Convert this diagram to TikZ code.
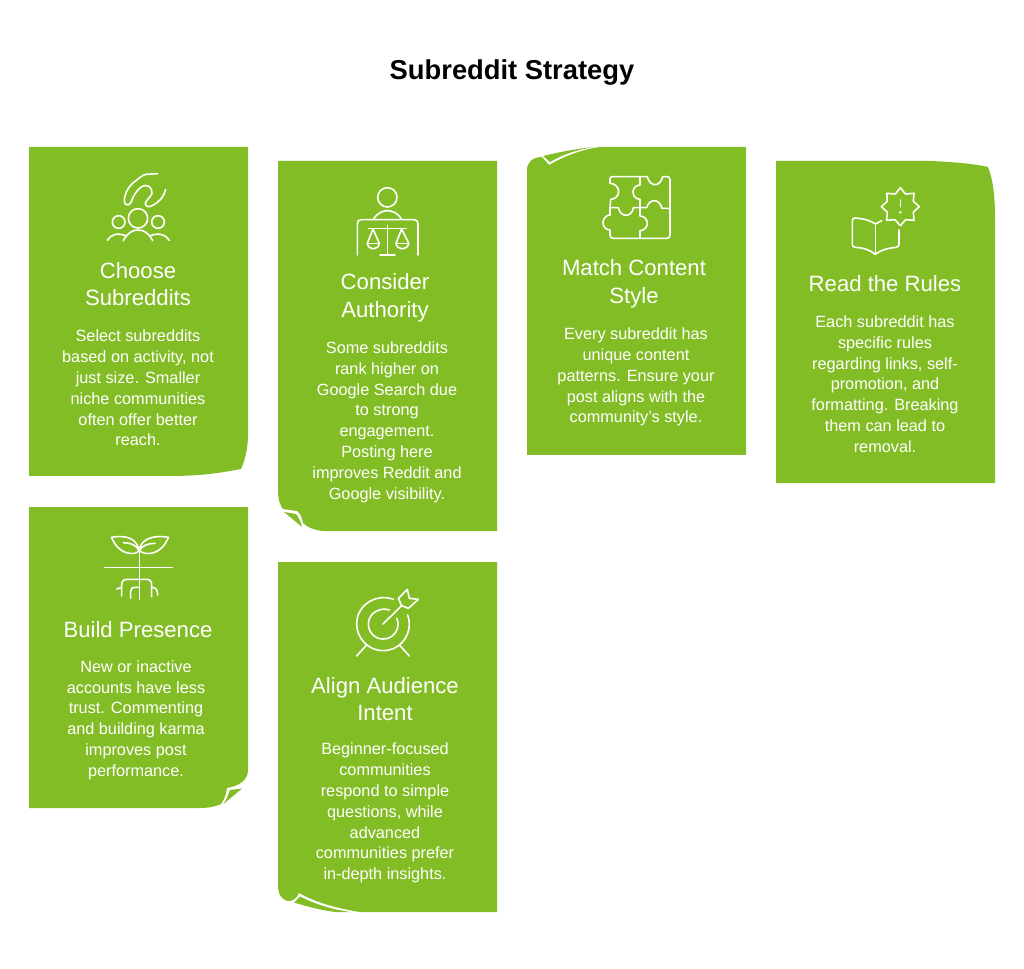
\documentclass[tikz,border=0pt]{standalone}
\usepackage{fontspec}
\setmainfont{Liberation Sans}
\definecolor{cardgreen}{HTML}{83BD26}
\tikzset{
  card/.style={fill=cardgreen,draw=none},
  icon/.style={draw=white,line width=1.2pt,line cap=round,line join=round,fill=none},
  headtext/.style={text=white,inner sep=0,align=center,font=\fontsize{16.6}{20.6}\selectfont},
  bodytext/.style={text=white,inner sep=0,align=center,font=\fontsize{12.2}{15.6}\selectfont},
  titletext/.style={text=black,inner sep=0,font=\fontsize{20.5}{24}\selectfont\bfseries}
}
\begin{document}
\begin{tikzpicture}[x=0.75pt,y=-0.75pt]
\useasboundingbox (0,0) rectangle (1024,969);
\fill[white] (0,0) rectangle (1024,969);
\node[titletext] (title) at (512,72) {Subreddit Strategy};
% Card 1
\path[card] (29,147) -- (248,147) -- (248,435) .. controls (248,448) and (245,460) .. (241,469) .. controls (220,473) and (200,476) .. (170,476) -- (29,476) -- cycle;
% Card 2
\path[card] (278,161) -- (497,161) -- (497,531) -- (325,531) .. controls (314,531) and (306,526) .. (303,523) .. controls (302,517) and (300,513) .. (297,511) -- (283,509) .. controls (280,505) and (278,500) .. (278,490) -- cycle;
\path[card] (284,512) -- (296,514) .. controls (299,518) and (301,522) .. (302,527) -- cycle;
% Card 3
\path[card] (597,147) -- (746,147) -- (746,455) -- (527,455) -- (527,170) .. controls (527,162) and (533,157) .. (542,157) -- (549,165) .. controls (565,156) and (580,150) .. (600,147) -- cycle;
\path[card] (543,156) -- (550,162) .. controls (562,155) and (575,150) .. (594,147) .. controls (575,149) and (560,152) .. (543,156) -- cycle;
% Card 4
\path[card] (776,161) -- (930,161) .. controls (955,162) and (975,164) .. (988,167) .. controls (993,180) and (995,195) .. (995,220) -- (995,483) -- (776,483) -- cycle;
% Card 5
\path[card] (29,507) -- (248,507) -- (248,770) .. controls (248,781) and (238,786) .. (227,788) .. controls (226,795) and (224,800) .. (221,804) .. controls (215,807) and (208,808) .. (198,808) -- (29,808) -- cycle;
\path[card] (242,788.5) -- (230,790) .. controls (228,796) and (226,800) .. (223.5,804) -- cycle;
% Card 6
\path[card] (278,562) -- (497,562) -- (497,912) -- (360,912) .. controls (335,908) and (315,902) .. (299,893) .. controls (297,898) and (294,900) .. (290,901) .. controls (282,901) and (278,895) .. (278,885) -- cycle;
\path[card] (294,902.5) -- (300,896.5) .. controls (315,904) and (330,909) .. (350,912) -- (335,912) .. controls (320,910) and (305,906) .. (294,902.5) -- cycle;
% Icon 1
\begin{scope}[shift={(20,140)},scale=1/3]
\draw[icon] (413,101) -- (378,103) .. controls (365,105) and (355,118) .. (340,128) .. controls (325,140) and (312,165) .. (313,185) .. controls (315,197) and (328,198) .. (333,187) .. controls (340,170) and (345,155) .. (365,140) .. controls (380,130) and (398,142) .. (396,160) .. controls (392,172) and (378,180) .. (376,190) .. controls (376,200) and (388,203) .. (398,196) .. controls (415,187) and (430,175) .. (437,148);
\draw[icon] (354,235) circle (29);
\draw[icon] (296,246) circle (19);
\draw[icon] (414,246) circle (19);
\draw[icon] (310,302) .. controls (322,278) and (338,270) .. (354,270) .. controls (370,270) and (386,278) .. (398,302);
\draw[icon] (262,301) .. controls (272,285) and (290,276) .. (319,288);
\draw[icon] (389,288) .. controls (418,276) and (438,285) .. (448,301);
\end{scope}
% Icon 2
\begin{scope}[shift={(270,150)},scale=1/3]
\draw[icon] (352,142) circle (29);
\draw[icon] (310,208) .. controls (322,188) and (340,182) .. (352,182) .. controls (365,182) and (383,188) .. (395,208);
\draw[icon] (262,315) -- (262,222) .. controls (262,213) and (266,209) .. (274,209) -- (432,209) .. controls (440,209) and (444,213) .. (444,222) -- (444,315);
\draw[icon] (295,235) -- (408,235);
\draw[icon] (352,226) -- (352,315);
\draw[icon] (330,315) -- (375,315);
\draw[icon] (309,237) -- (292,280) .. controls (295,302) and (325,302) .. (328,280) -- cycle;
\draw[icon] (292,280) -- (328,280);
\draw[icon] (395,237) -- (378,280) .. controls (381,302) and (413,302) .. (416,280) -- cycle;
\draw[icon] (378,280) -- (416,280);
\end{scope}
% Icon 3
\begin{scope}[shift={(520,140)},scale=1/3]
\draw[icon] (360,110) -- (278,110) .. controls (272,110) and (270,112) .. (270,118) -- (270,130) .. controls (285,130) and (296,142) .. (296,155) .. controls (296,168) and (285,178) .. (272,178) -- (270,203) -- (270,225) .. controls (258,225) and (249,237) .. (249,248) .. controls (249,260) and (258,270) .. (270,270) -- (270,285) .. controls (270,292) and (274,295) .. (280,295) -- (440,295) .. controls (447,295) and (450,292) .. (450,285) -- (450,120) .. controls (450,113) and (447,110) .. (440,110) -- (428,110) .. controls (425,125) and (415,134) .. (405,134) .. controls (395,134) and (385,125) .. (382,110) -- (360,110) -- (360,135) .. controls (348,135) and (339,145) .. (339,156) .. controls (339,168) and (348,178) .. (360,178) -- (360,228) .. controls (372,228) and (382,238) .. (382,250) .. controls (382,262) and (372,272) .. (360,272) -- (360,295);
\draw[icon] (270,203) -- (295,203) .. controls (298,218) and (308,226) .. (318,226) .. controls (328,226) and (338,218) .. (340,203) -- (380,203) .. controls (383,190) and (393,182) .. (403,182) .. controls (413,182) and (423,192) .. (426,205) -- (450,205);
\end{scope}
% Icon 4
\begin{scope}[shift={(770,150)},scale=1/3]
\draw[icon] (391,113) -- (406,132) -- (432,130) -- (430,154) -- (448,170) -- (430,186) -- (432,211) -- (407,209) -- (391,227) -- (375,209) -- (350,211) -- (352,186) -- (334,170) -- (352,154) -- (350,130) -- (376,132) -- cycle;
\draw[icon] (391,150) -- (391,170);
\fill[white] (391,187) circle (4);
\draw[icon] (335,212) -- (316,222) .. controls (300,210) and (275,205) .. (255,204) .. controls (250,204) and (247,207) .. (247,212) -- (247,283) .. controls (247,289) and (250,292) .. (256,292) .. controls (280,293) and (300,300) .. (316,313) .. controls (332,300) and (352,295) .. (378,292) .. controls (384,291) and (387,288) .. (387,283) -- (387,240);
\draw[icon] (316,222) -- (316,313);
\end{scope}
% Icon 5
\begin{scope}[shift={(20,500)},scale=1/3]
\draw[icon] (357,152) .. controls (352,120) and (325,103) .. (275,112) .. controls (285,140) and (310,165) .. (345,160) .. controls (350,158) and (355,155) .. (357,152) .. controls (362,120) and (395,103) .. (445,112) .. controls (435,140) and (410,165) .. (375,160) .. controls (368,158) and (362,155) .. (358,152);
\draw[icon] (310,128) .. controls (330,128) and (350,135) .. (357,152);
\draw[icon] (405,130) .. controls (385,130) and (365,137) .. (358,152);
\draw[icon] (358,150) -- (358,298);
\draw[icon] (253,202) -- (457,202);
\draw[icon] (305,288) -- (305,255) .. controls (305,244) and (310,238) .. (322,238) -- (380,238) .. controls (390,238) and (395,244) .. (395,255) -- (395,290);
\draw[icon] (290,267) -- (305,262);
\draw[icon] (395,262) .. controls (408,262) and (413,270) .. (413,285);
\draw[icon] (332,295) -- (332,275) .. controls (332,266) and (336,262) .. (344,262) -- (358,262);
\end{scope}
% Icon 6
\begin{scope}[shift={(270,555)},scale=1/3]
\draw[icon] (370,133) .. controls (325,115) and (260,145) .. (260,207) .. controls (260,250) and (295,287) .. (339,287) .. controls (385,287) and (418,250) .. (418,207) .. controls (418,197) and (416,188) .. (413,180);
\draw[icon] (358,165) .. controls (330,155) and (295,175) .. (295,207) .. controls (295,232) and (315,252) .. (339,252) .. controls (365,252) and (384,232) .. (384,207) .. controls (384,200) and (383,195) .. (380,190);
\draw[icon] (339,207) -- (395,152);
\draw[icon] (395,152) -- (385,130) -- (412,103) -- (418,130) -- (445,133) -- (415,160) -- cycle;
\draw[icon] (288,272) -- (260,303);
\draw[icon] (390,272) -- (418,303);
\end{scope}
% Texts
\node[headtext] (h1) at (138,284) {Choose\\Subreddits};
\node[bodytext] (b1) at (138,388) {Select subreddits\\based on activity, not\\just size. Smaller\\niche communities\\often offer better\\reach.};
\node[headtext] (h2) at (385,298) {Consider\\Authority};
\node[bodytext] (b2) at (387,422) {Some subreddits\\rank higher on\\Google Search due\\to strong\\engagement.\\Posting here\\improves Reddit and\\Google visibility.};
\node[headtext] (h3) at (634,284) {Match Content\\Style};
\node[bodytext] (b3) at (636,377) {Every subreddit has\\unique content\\patterns. Ensure your\\post aligns with the\\community's style.};
\node[headtext] (h4) at (885,284) {Read the Rules};
\node[bodytext] (b4) at (885,384) {Each subreddit has\\specific rules\\regarding links, self-\\promotion, and\\formatting. Breaking\\them can lead to\\removal.};
\node[headtext] (h5) at (138,630) {Build Presence};
\node[bodytext] (b5) at (136,720) {New or inactive\\accounts have less\\trust. Commenting\\and building karma\\improves post\\performance.};
\node[headtext] (h6) at (385,699) {Align Audience\\Intent};
\node[bodytext] (b6) at (385,813) {Beginner-focused\\communities\\respond to simple\\questions, while\\advanced\\communities prefer\\in-depth insights.};
\end{tikzpicture}
\end{document}
